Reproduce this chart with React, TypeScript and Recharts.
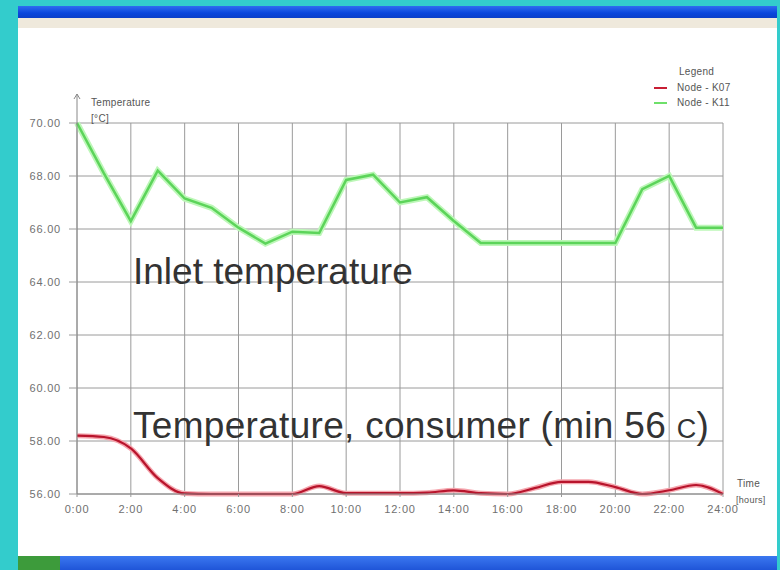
import { LineChart, Line, XAxis, YAxis, CartesianGrid } from 'recharts';

const HOURS = [0, 1, 2, 3, 4, 5, 6, 7, 8, 9, 10, 11, 12, 13, 14, 15, 16, 17, 18, 19, 20, 21, 22, 23, 24];

// Node - K11 (inlet temperature)
const K11 = [
  70.0, 68.1, 66.3, 68.2, 67.15, 66.8, 66.05, 65.45, 65.9, 65.85, 67.85, 68.05, 67.0, 67.2, 66.3, 65.47, 65.47,
  65.47, 65.47, 65.47, 65.47, 67.5, 68.0, 66.05, 66.05,
];

// Node - K07 (consumer temperature)
const K07 = [
  58.2, 58.15, 57.72, 56.6, 56.02, 56.0, 56.0, 56.0, 56.0, 56.3, 56.03, 56.03, 56.03, 56.05, 56.14, 56.03, 56.0,
  56.22, 56.46, 56.46, 56.26, 56.0, 56.14, 56.34, 56.0,
];

const X_TICKS = [0, 2, 4, 6, 8, 10, 12, 14, 16, 18, 20, 22, 24];
const Y_TICKS = [56, 58, 60, 62, 64, 66, 68, 70];

const rows = HOURS.map((h, i) => ({ h, k11: K11[i], k07: K07[i] }));

const FONT = '"Liberation Sans", Arial, sans-serif';
const TICK = { fill: '#707070', fontSize: 11, fontFamily: FONT, letterSpacing: 0.8 };
const GRID = '#9a9a9a';

const small = {
  position: 'absolute' as const,
  fontFamily: FONT,
  fontSize: 10,
  color: '#555',
  letterSpacing: 0.3,
  lineHeight: '12px',
  whiteSpace: 'nowrap' as const,
};

const big = {
  position: 'absolute' as const,
  fontFamily: FONT,
  fontSize: 37,
  color: '#333',
  lineHeight: '40px',
  whiteSpace: 'nowrap' as const,
};

export default function App() {
  return (
    <div style={{ position: 'absolute', left: 0, top: 0, width: 780, height: 570, background: '#33cccc', overflow: 'hidden' }}>
      {/* window frame */}
      <div style={{ position: 'absolute', left: 18, top: 6, width: 759, height: 550, background: '#fff' }} />
      <div
        style={{
          position: 'absolute',
          left: 18,
          top: 6,
          width: 759,
          height: 12,
          background: 'linear-gradient(#2f6cf0, #0a46dc 60%, #0b3fc8)',
        }}
      />
      <div style={{ position: 'absolute', left: 18, top: 18, width: 759, height: 10, background: '#efe9dc' }} />
      <div
        style={{
          position: 'absolute',
          left: 18,
          top: 556,
          width: 759,
          height: 14,
          background: 'linear-gradient(#3b78f0, #1f55d8)',
        }}
      />
      <div style={{ position: 'absolute', left: 18, top: 556, width: 42, height: 14, background: '#3d9b3b' }} />

      <LineChart
        width={780}
        height={570}
        data={rows}
        margin={{ top: 123, right: 57, left: 27, bottom: 46 }}
        style={{ position: 'absolute', left: 0, top: 0 }}
      >
        <CartesianGrid stroke={GRID} strokeWidth={1} />
        <XAxis
          dataKey="h"
          type="number"
          domain={[0, 24]}
          ticks={X_TICKS}
          tickFormatter={(h: number) => `${h}:00`}
          height={30}
          tick={TICK}
          tickSize={3}
          tickMargin={8}
          axisLine={{ stroke: '#888' }}
          tickLine={{ stroke: GRID }}
        />
        <YAxis
          type="number"
          domain={[56, 70]}
          ticks={Y_TICKS}
          tickFormatter={(v: number) => v.toFixed(2)}
          width={50}
          tick={TICK}
          tickSize={8}
          tickMargin={8}
          axisLine={{ stroke: '#888' }}
          tickLine={{ stroke: GRID }}
        />
        <Line type="linear" dataKey="k11" stroke="#bdf7b8" strokeWidth={6} dot={false} isAnimationActive={false} />
        <Line type="linear" dataKey="k11" stroke="#5cd45a" strokeWidth={2.5} dot={false} isAnimationActive={false} />
        <Line type="monotone" dataKey="k07" stroke="#f5a6ae" strokeWidth={5} dot={false} isAnimationActive={false} />
        <Line type="monotone" dataKey="k07" stroke="#b8142c" strokeWidth={2.2} dot={false} isAnimationActive={false} />
      </LineChart>

      {/* y-axis arrow */}
      <svg style={{ position: 'absolute', left: 70, top: 92, width: 14, height: 32 }}>
        <line x1={7} y1={2} x2={7} y2={31} stroke="#888" strokeWidth={1} />
        <polyline points="4,7 7,2 10,7" fill="none" stroke="#888" strokeWidth={1} />
      </svg>

      <div style={{ ...small, left: 91, top: 97 }}>Temperature</div>
      <div style={{ ...small, left: 91, top: 113 }}>[°C]</div>

      <div style={{ ...small, left: 679, top: 66 }}>Legend</div>
      <div style={{ position: 'absolute', left: 654, top: 87, width: 13, height: 2, background: '#c81e34' }} />
      <div style={{ ...small, left: 677, top: 82 }}>Node - K07</div>
      <div style={{ position: 'absolute', left: 654, top: 102, width: 13, height: 2, background: '#6ee06a' }} />
      <div style={{ ...small, left: 677, top: 97 }}>Node - K11</div>

      <div style={{ ...small, left: 737, top: 478 }}>Time</div>
      <div style={{ ...small, left: 736, top: 494, fontSize: 9 }}>[hours]</div>

      <div style={{ ...big, left: 133, top: 252 }}>Inlet temperature</div>
      <div style={{ ...big, left: 133, top: 406, letterSpacing: 0.3 }}>
        Temperature, consumer (min 56 <span style={{ fontSize: 27 }}>C</span>)
      </div>
    </div>
  );
}
